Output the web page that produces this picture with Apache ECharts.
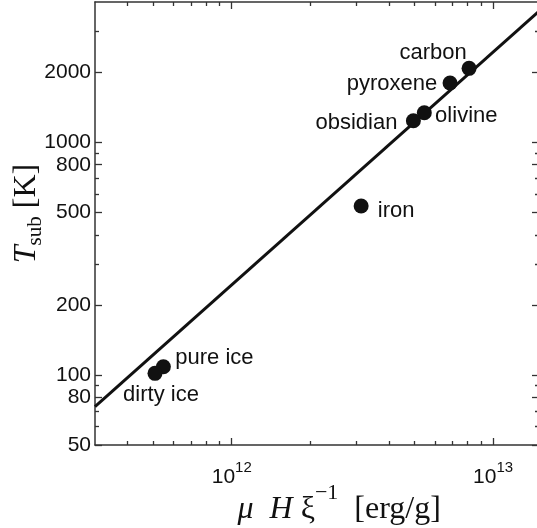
<!DOCTYPE html>
<html><head><meta charset="utf-8">
<script src="https://cdn.jsdelivr.net/npm/echarts@6/dist/echarts.min.js"></script>
<style>html,body{margin:0;padding:0;background:#fff}#c{width:537px;height:528px}</style>
</head><body><div id="c"></div>
<script>
// ---- data ----
const materials = ['carbon', 'pyroxene', 'olivine', 'obsidian', 'iron', 'pure ice', 'dirty ice'];
const energy = [8.1e12, 6.85e12, 5.46e12, 4.96e12, 3.13e12, 5.48e11, 5.09e11];   // mu H xi^-1 [erg/g]
const tsub = [2075, 1795, 1338, 1236, 532, 108.5, 101.6];                          // T_sub [K]
const fitX = [3e11, 1.5e13];
const fitT = [73, 3650];
const xRange = [3e11, 1.5e13];
const yRange = [50, 4000];
const xMajorTicks = [1e12, 1e13];
const xMinorTicks = [4e11, 5e11, 6e11, 7e11, 8e11, 9e11, 2e12, 3e12, 4e12, 5e12, 6e12, 7e12, 8e12, 9e12];
const yLabelTicks = [50, 80, 100, 200, 500, 800, 1000, 2000];
const yMinorTicks = [60, 70, 90, 300, 400, 600, 700, 900, 3000];

// ---- style ----
const labelOffset = {
  'carbon': [-36, -15], 'pyroxene': [-58, 1], 'olivine': [42, 3], 'obsidian': [-57, 2],
  'iron': [35, 5], 'pure ice': [51, -9], 'dirty ice': [6, 22]
};
const ink = '#111';
const axisInk = '#333';
const sans = 'Liberation Sans, Arial, Helvetica, sans-serif';
const serif = 'Liberation Serif, Times New Roman, serif';
const lg = v => Math.log10(v);

function tickAxis(kind, pos, ticks, len, showLine, labels) {
  const range = kind === 'x' ? xRange : yRange;
  const ax = {
    type: 'value', position: pos, min: lg(range[0]), max: lg(range[1]),
    gridIndex: 0, splitLine: { show: false }, scale: true,
    axisLine: { show: showLine, onZero: false, lineStyle: { color: axisInk, width: 1.5 } },
    axisTick: { show: true, inside: true, length: len, customValues: ticks.map(lg),
                lineStyle: { color: axisInk, width: 1.3 } },
    axisLabel: { show: false }
  };
  if (labels) ax.axisLabel = labels;
  return ax;
}

const xLabels = {
  show: true, customValues: xMajorTicks.map(lg), margin: 15,
  formatter: v => '{g| }{b|10}{s|' + Math.round(v) + '}',
  rich: {
    g: { fontSize: 1, lineHeight: 28 },
    b: { fontFamily: sans, fontSize: 21, color: ink, lineHeight: 22, verticalAlign: 'bottom' },
    s: { fontFamily: sans, fontSize: 15, color: ink, lineHeight: 15, verticalAlign: 'top' }
  }
};
const yLabels = {
  show: true, customValues: yLabelTicks.map(lg), margin: 4,
  formatter: v => String(Math.round(Math.pow(10, v))),
  fontFamily: sans, fontSize: 21, color: ink
};

const xMain = tickAxis('x', 'bottom', xMajorTicks, 7, true, xLabels);
xMain.name = '{g| }{i|μ}{r|  }{i|H}{r| ξ}{sup|−1}{r|  [erg/g]}';
xMain.nameLocation = 'middle';
xMain.nameGap = 37;
xMain.nameMoveOverlap = false;
xMain.nameTextStyle = {
  padding: [0, 0, 0, 44],
  rich: {
    g: { fontSize: 1, lineHeight: 44 },
    i: { fontFamily: serif, fontStyle: 'italic', fontSize: 32, lineHeight: 32, color: ink, verticalAlign: 'bottom' },
    r: { fontFamily: serif, fontSize: 32, lineHeight: 32, color: ink, verticalAlign: 'bottom' },
    sup: { fontFamily: serif, fontSize: 22, lineHeight: 22, color: ink, verticalAlign: 'top' }
  }
};
const yMain = tickAxis('y', 'left', yLabelTicks, 7, true, yLabels);
yMain.name = '{t|T}{sub|sub}{n| [K]}';
yMain.nameLocation = 'middle';
yMain.nameRotate = 90;
yMain.nameGap = 52;
yMain.nameMoveOverlap = false;
yMain.nameTextStyle = {
  padding: [0, 0, 0, 20],
  rich: {
    t: { fontFamily: serif, fontStyle: 'italic', fontSize: 32, lineHeight: 32, color: ink, verticalAlign: 'top' },
    sub: { fontFamily: serif, fontSize: 21, lineHeight: 21, color: ink, verticalAlign: 'top', padding: [14, 0, 0, 0] },
    n: { fontFamily: serif, fontSize: 32, lineHeight: 32, color: ink, verticalAlign: 'top' }
  }
};

const option = {
  animation: false,
  backgroundColor: '#fff',
  grid: { left: 95, top: 2, width: 444, height: 443, containLabel: false, outerBoundsMode: 'none' },
  xAxis: [
    { type: 'log', logBase: 10, min: xRange[0], max: xRange[1], show: false, gridIndex: 0 },
    xMain,
    tickAxis('x', 'bottom', xMinorTicks, 4, false),
    tickAxis('x', 'top', xMajorTicks, 7, true),
    tickAxis('x', 'top', xMinorTicks, 4, false)
  ],
  yAxis: [
    { type: 'log', logBase: 10, min: yRange[0], max: yRange[1], show: false, gridIndex: 0 },
    yMain,
    tickAxis('y', 'left', yMinorTicks, 4, false),
    tickAxis('y', 'right', yLabelTicks, 7, true),
    tickAxis('y', 'right', yMinorTicks, 4, false)
  ],
  series: [
    {
      type: 'line', xAxisIndex: 0, yAxisIndex: 0, showSymbol: false, silent: true, z: 2,
      data: fitX.map((x, i) => [x, fitT[i]]),
      lineStyle: { color: ink, width: 3 }
    },
    {
      type: 'scatter', xAxisIndex: 0, yAxisIndex: 0, z: 3, symbolSize: 15,
      itemStyle: { color: ink, opacity: 1 },
      data: materials.map((m, i) => ({
        name: m, value: [energy[i], tsub[i]],
        label: { show: true, position: 'inside', offset: labelOffset[m], formatter: '{b}',
                 fontFamily: sans, fontSize: 22, color: ink }
      }))
    }
  ]
};
const chart = echarts.init(document.getElementById('c'), null, { renderer: 'canvas' });
chart.setOption(option);
</script></body></html>
